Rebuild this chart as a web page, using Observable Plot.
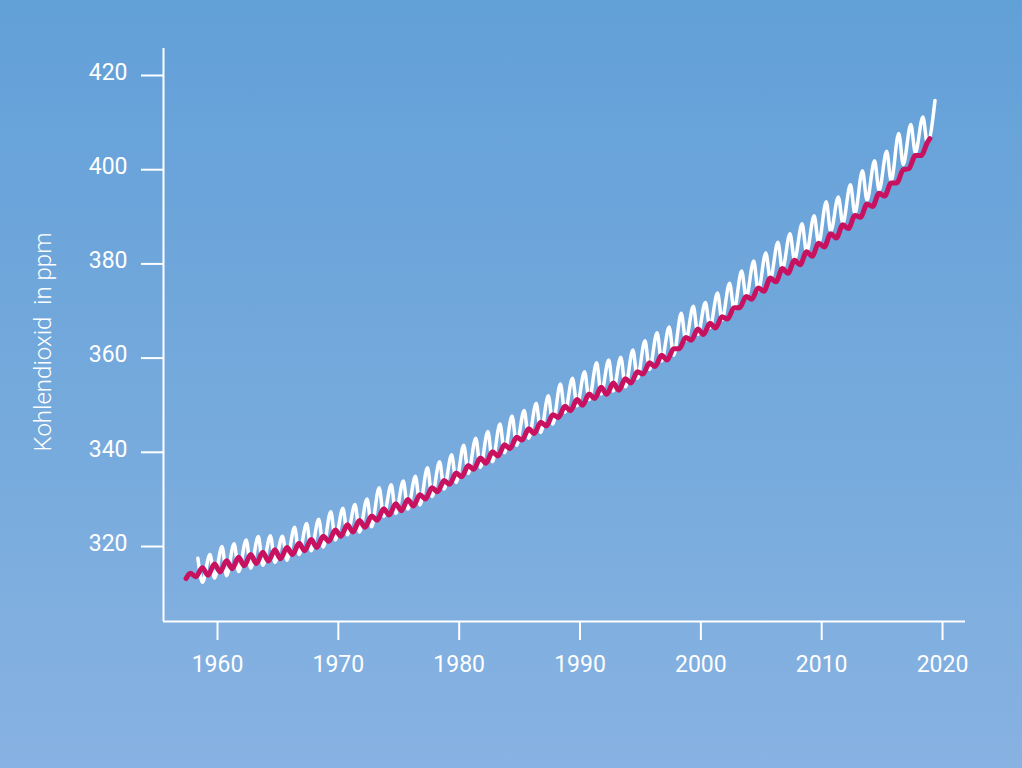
<!DOCTYPE html>
<html><head><meta charset="utf-8">
<script src="https://cdn.jsdelivr.net/npm/d3@7"></script>
<script src="https://cdn.jsdelivr.net/npm/@observablehq/plot@0.6"></script>
<style>
html,body{margin:0;padding:0;}
body{width:1022px;height:768px;overflow:hidden;background:linear-gradient(to bottom,#62a0d8 0%,#74a9dc 50%,#87b2e2 100%);}
#chart svg{display:block;}
</style></head><body><div id="chart"></div>
<script>
// Mauna Loa (white): yearly May maxima and autumn minima, ppm
const mloYears = d3.range(1958, 2020);
const mloMay = [317.5,318.3,320.0,320.6,321.4,322.1,322.3,322.2,324.1,324.9,
  325.8,327.4,328.1,328.9,330.1,332.5,333.1,333.9,334.9,336.7,
  338.0,339.5,341.5,343.0,344.4,346.0,347.7,348.9,350.4,352.0,
  354.5,355.7,357.1,359.0,359.6,360.2,361.7,363.7,365.4,366.6,
  369.5,371.0,371.8,373.8,375.9,378.5,380.6,382.3,384.6,386.4,
  388.5,390.2,393.2,394.2,396.8,399.8,401.9,403.9,407.7,409.6,
  411.2,414.7];
const mloAutumn = [312.4,313.3,313.8,314.7,315.4,316.0,316.6,317.1,318.3,319.1,
  319.9,321.4,322.5,323.1,324.2,326.4,327.0,327.9,328.8,330.6,
  332.2,333.6,335.5,336.8,338.0,339.9,341.5,343.0,344.2,346.0,
  348.5,349.9,351.2,352.4,353.0,353.9,355.7,357.6,359.4,360.6,
  363.8,365.0,366.5,368.1,370.3,372.9,374.3,376.8,378.8,380.9,
  382.5,384.4,386.9,388.6,390.7,393.5,395.6,397.6,401.1,403.6,
  405.5];
const mloPeakMonth = 5, mloTroughMonth = 9.5;

// Second station (magenta): yearly lows and highs, ppm (no low in 1957)
const spoYears = d3.range(1957, 2019);
const spoLow = [null,313.6,313.9,314.6,315.3,315.9,316.4,316.9,317.4,318.3,319.1,
  319.8,321.1,322.2,323.1,324.1,325.6,326.7,327.6,328.6,330.1,
  331.6,333.2,334.8,336.4,337.7,339.2,340.8,342.6,344.0,345.6,
  347.4,348.8,350.0,351.4,352.3,353.2,354.7,356.6,358.2,359.6,
  362.0,363.8,365.0,366.4,368.3,370.7,372.5,374.2,376.2,378.0,
  379.8,381.6,383.6,385.5,387.5,389.9,392.2,394.4,397.2,400.2,
  403.0];
const spoHigh = [314.3,315.5,316.3,317.0,317.7,318.3,318.8,319.3,319.8,320.7,321.5,
  322.2,323.5,324.6,325.5,326.5,328.0,329.1,330.0,331.0,332.5,
  334.0,335.6,337.2,338.8,340.1,341.6,343.2,345.0,346.4,348.0,
  349.8,351.2,352.4,353.8,354.7,355.6,357.1,359.0,360.6,362.0,
  364.4,366.2,367.4,368.8,370.7,373.1,374.9,377.0,379.0,380.8,
  382.6,384.4,386.4,388.3,390.3,392.7,395.0,397.2,400.0,403.0,
  405.8];
const spoLowMonth = 3, spoHighMonth = 9.5;
const spoStart = {t: 1957.4, v: 313.2};
const spoEnd = {t: 2018.95, v: 406.6};

const xTicks = [1960,1970,1980,1990,2000,2010,2020];
const yTicks = [320,340,360,380,400,420];
const xDomain = [1955.53, 2021.9];
const yDomain = [304.08, 425.73];
const yLabel = "Kohlendioxid\u00a0 in ppm";

const frac = m => (m - 0.5) / 12;
const white = [];
mloYears.forEach((y, i) => {
  white.push({t: y + frac(mloPeakMonth), v: mloMay[i]});
  if (i < mloAutumn.length) white.push({t: y + frac(mloTroughMonth), v: mloAutumn[i]});
});
const magenta = [spoStart];
spoYears.forEach((y, i) => {
  if (spoLow[i] != null) magenta.push({t: y + frac(spoLowMonth), v: spoLow[i]});
  magenta.push({t: y + frac(spoHighMonth), v: spoHigh[i]});
});
magenta.push(spoEnd);

const chart = Plot.plot({
  width: 1022, height: 768,
  marginLeft: 163, marginRight: 57, marginTop: 48, marginBottom: 147,
  style: {fontFamily: "Roboto, sans-serif", fontSize: "23px", color: "white", background: "transparent", overflow: "visible"},
  x: {domain: xDomain},
  y: {domain: yDomain},
  marks: [
    Plot.ruleX([xDomain[0]], {stroke: "white", strokeWidth: 2}),
    Plot.ruleY([yDomain[0]], {stroke: "white", strokeWidth: 2}),
    Plot.axisY(yTicks, {tickSize: 22, stroke: "white", strokeWidth: 2, fill: "none", label: null}),
    Plot.axisY(yTicks, {tickSize: 0, tickPadding: 36, fill: "white", fontSize: 23, dy: -3, label: null}),
    Plot.axisX(xTicks, {tickSize: 19, stroke: "white", strokeWidth: 2, fill: "none", label: null}),
    Plot.axisX(xTicks, {tickSize: 0, tickPadding: 34, fill: "white", fontSize: 23, tickFormat: "d", label: null}),
    Plot.line(white, {x: "t", y: "v", stroke: "white", strokeWidth: 3.5, curve: "monotone-x"}),
    Plot.line(magenta, {x: "t", y: "v", stroke: "#c8115f", strokeWidth: 5, curve: "monotone-x"}),
    Plot.text([yLabel], {text: d => d, frameAnchor: "left", textAnchor: "middle", dx: -120, dy: 7, rotate: -90, fill: "white", fontSize: 24, fontWeight: 300})
  ]
});
document.getElementById("chart").appendChild(chart);
</script>
</body></html>
